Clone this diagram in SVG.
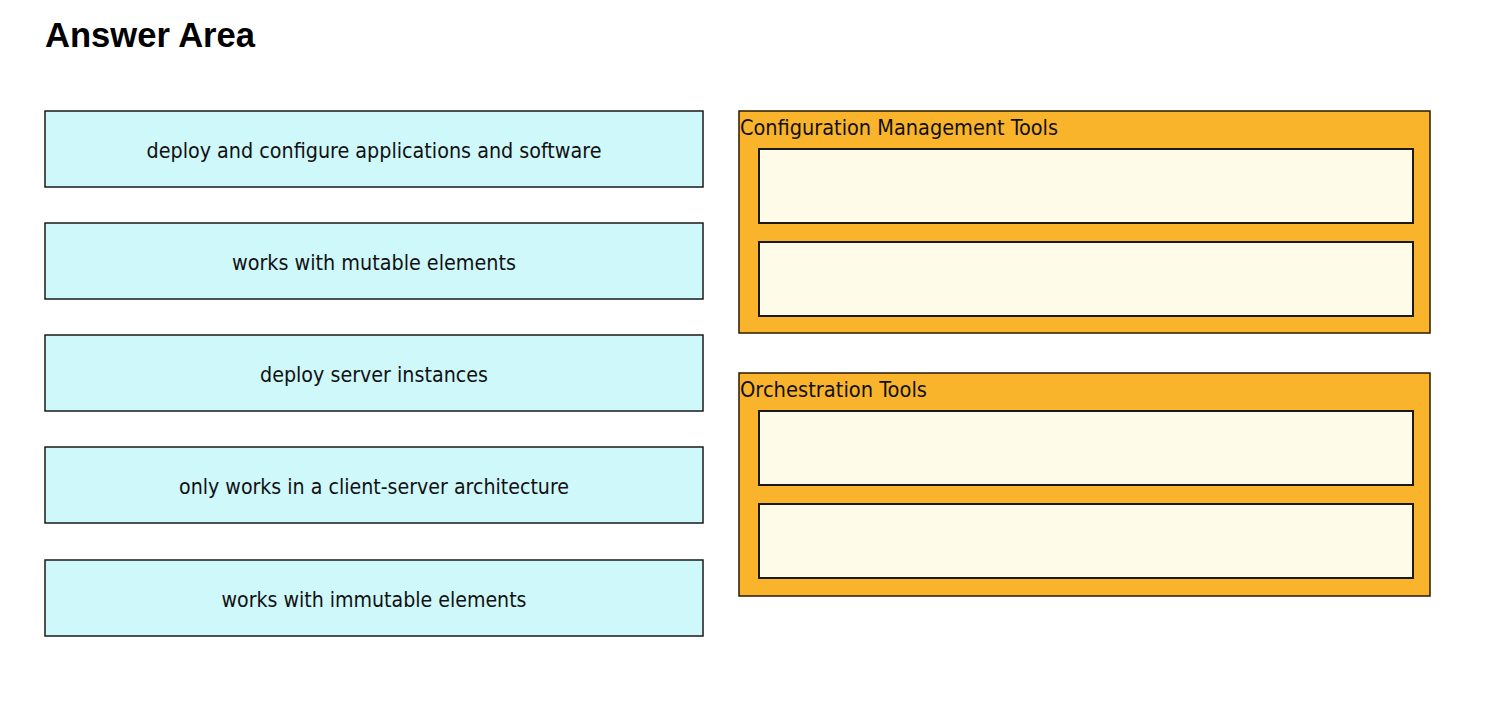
<svg xmlns="http://www.w3.org/2000/svg" width="1488" height="715" viewBox="0 0 1488 715">
<style>
.bg{fill:#ffffff}
.item{fill:#cff8fb;stroke:#1a1a1a;stroke-width:1.5}
.grp{fill:#f9b42c;stroke:#2a1a00;stroke-width:1.5}
.slot{fill:#fefbe9;stroke:#1a1a1a;stroke-width:2}
.t{font-family:"DejaVu Sans","Liberation Sans",sans-serif;font-stretch:condensed;font-size:22px;fill:#111111}
.h{font-family:"Liberation Sans",Arial,sans-serif;font-weight:bold;font-size:35px;fill:#000000}
</style>
<rect class="bg" x="0" y="0" width="1488" height="715"/>
<text class="h" x="45" y="47" textLength="210" lengthAdjust="spacingAndGlyphs">Answer Area</text>
<g id="item1"><rect class="item" x="45" y="111" width="658" height="76"/><text class="t" x="374" y="158" text-anchor="middle" textLength="455" lengthAdjust="spacingAndGlyphs">deploy and configure applications and software</text></g>
<g id="item2"><rect class="item" x="45" y="223" width="658" height="76"/><text class="t" x="374" y="270" text-anchor="middle" textLength="284" lengthAdjust="spacingAndGlyphs">works with mutable elements</text></g>
<g id="item3"><rect class="item" x="45" y="335" width="658" height="76"/><text class="t" x="374" y="382" text-anchor="middle" textLength="228" lengthAdjust="spacingAndGlyphs">deploy server instances</text></g>
<g id="item4"><rect class="item" x="45" y="447" width="658" height="76"/><text class="t" x="374" y="494" text-anchor="middle" textLength="390" lengthAdjust="spacingAndGlyphs">only works in a client-server architecture</text></g>
<g id="item5"><rect class="item" x="45" y="560" width="658" height="76"/><text class="t" x="374" y="607" text-anchor="middle" textLength="305" lengthAdjust="spacingAndGlyphs">works with immutable elements</text></g>
<g id="config">
<rect class="grp" x="739" y="111" width="691" height="222"/>
<text class="t" x="740" y="135" textLength="318" lengthAdjust="spacingAndGlyphs">Configuration Management Tools</text>
<rect class="slot" x="759" y="149" width="654" height="74"/>
<rect class="slot" x="759" y="242" width="654" height="74"/>
</g>
<g id="orch">
<rect class="grp" x="739" y="373" width="691" height="223"/>
<text class="t" x="740" y="397" textLength="187" lengthAdjust="spacingAndGlyphs">Orchestration Tools</text>
<rect class="slot" x="759" y="411" width="654" height="74"/>
<rect class="slot" x="759" y="504" width="654" height="74"/>
</g>
<g id="connectors"></g>
</svg>
